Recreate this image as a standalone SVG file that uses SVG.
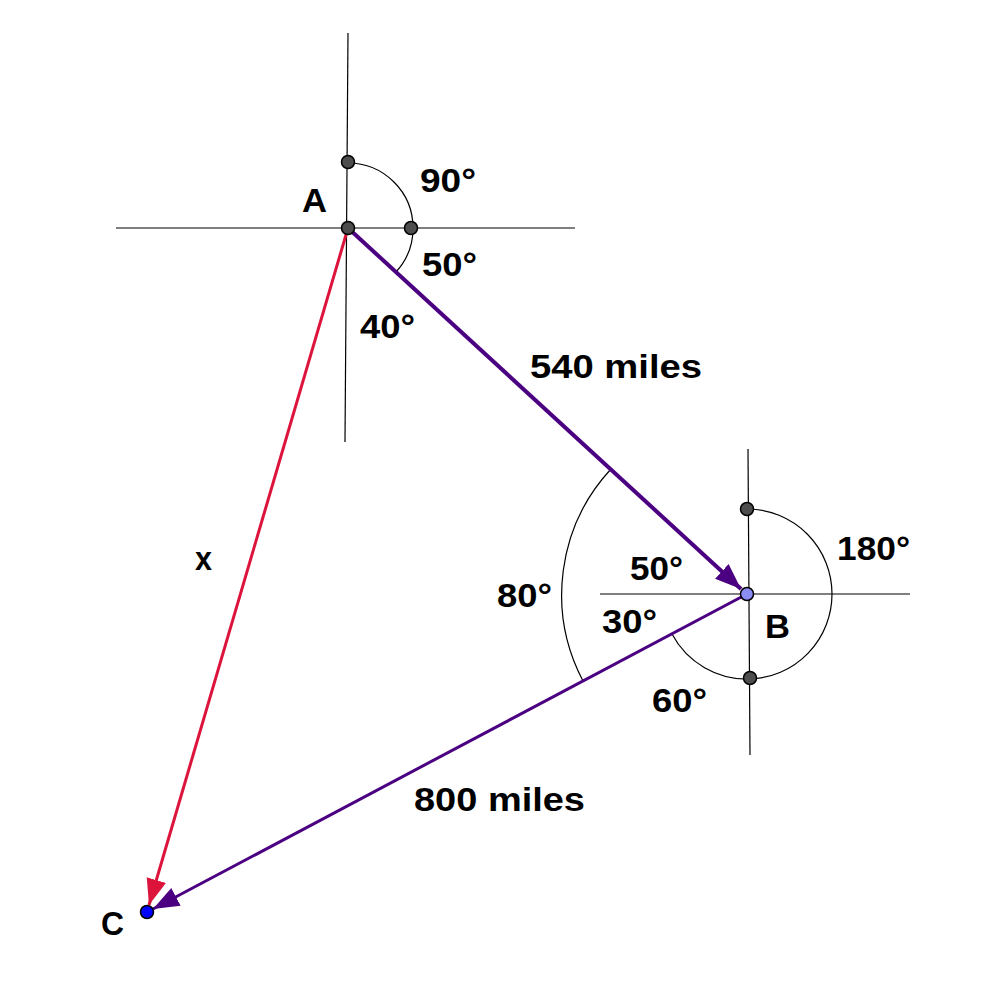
<svg xmlns="http://www.w3.org/2000/svg" width="993" height="984" viewBox="0 0 993 984">
<style>
.ax{stroke:#000;stroke-width:1.2;fill:none}
.arc{stroke:#000;stroke-width:1.2;fill:none}
.pt{fill:#4d4d4d;stroke:#000;stroke-width:1.5}
.lb{font-family:"Liberation Sans",Arial,sans-serif;font-weight:bold;font-size:33px;fill:#000}
</style>
<defs>
<marker id="hp" markerUnits="userSpaceOnUse" markerWidth="30" markerHeight="24" refX="26" refY="10" orient="auto">
<path d="M0,0 L26,10 L0,20 Z" fill="#4b0082"/>
</marker>
<marker id="hr" markerUnits="userSpaceOnUse" markerWidth="30" markerHeight="24" refX="26" refY="10" orient="auto">
<path d="M0,0 L26,10 L0,20 Z" fill="#dc143c"/>
</marker>
</defs>
<rect width="993" height="984" fill="#fff"/>
<g id="axes">
<line class="ax" x1="348" y1="33" x2="345" y2="442"/>
<line class="ax" x1="116" y1="228" x2="575" y2="228"/>
<line class="ax" x1="748" y1="449" x2="750" y2="755"/>
<line class="ax" x1="600" y1="594" x2="910" y2="594"/>
</g>
<g id="arcs">
<path class="arc" d="M348,163 A65,65 0 0 1 413,228 A65,65 0 0 1 396,272"/>
<path class="arc" d="M748,509 A85,85 0 0 1 832,594 A85,85 0 0 1 750,679 A85,85 0 0 1 672,634"/>
<path class="arc" d="M611,469 A185,185 0 0 0 583,681"/>
</g>
<g id="connectors">
<line x1="348" y1="228" x2="741" y2="589" stroke="#4b0082" stroke-width="4" marker-end="url(#hp)"/>
<line x1="747" y1="594" x2="153" y2="909" stroke="#4b0082" stroke-width="3" marker-end="url(#hp)"/>
<line x1="348" y1="228" x2="149" y2="905" stroke="#dc143c" stroke-width="3" marker-end="url(#hr)"/>
</g>
<g id="A"><circle class="pt" cx="348" cy="228" r="6.5"/><text class="lb" x="302" y="212" textLength="25" lengthAdjust="spacingAndGlyphs">A</text></g>
<g id="A-top"><circle class="pt" cx="348" cy="162" r="6.5"/></g>
<g id="A-right"><circle class="pt" cx="411" cy="228" r="6.5"/></g>
<g id="B"><circle cx="747" cy="594" r="6.5" fill="#8c8cf5" stroke="#000" stroke-width="1.5"/><text class="lb" x="765" y="638" textLength="25" lengthAdjust="spacingAndGlyphs">B</text></g>
<g id="B-top"><circle class="pt" cx="747" cy="509" r="6.5"/></g>
<g id="B-bottom"><circle class="pt" cx="750" cy="678" r="6.5"/></g>
<g id="C"><circle cx="147" cy="912" r="6.5" fill="#0000ff" stroke="#000" stroke-width="1.5"/><text class="lb" x="101" y="935" textLength="23" lengthAdjust="spacingAndGlyphs">C</text></g>
<g id="labels">
<text class="lb" x="420" y="192" textLength="56" lengthAdjust="spacingAndGlyphs">90°</text>
<text class="lb" x="422" y="276" textLength="55" lengthAdjust="spacingAndGlyphs">50°</text>
<text class="lb" x="360" y="338" textLength="55" lengthAdjust="spacingAndGlyphs">40°</text>
<text class="lb" x="530" y="378" textLength="172" lengthAdjust="spacingAndGlyphs">540 miles</text>
<text class="lb" x="195" y="570" textLength="17" lengthAdjust="spacingAndGlyphs">x</text>
<text class="lb" x="837" y="560" textLength="73" lengthAdjust="spacingAndGlyphs">180°</text>
<text class="lb" x="630" y="580" textLength="53" lengthAdjust="spacingAndGlyphs">50°</text>
<text class="lb" x="497" y="607" textLength="55" lengthAdjust="spacingAndGlyphs">80°</text>
<text class="lb" x="602" y="633" textLength="55" lengthAdjust="spacingAndGlyphs">30°</text>
<text class="lb" x="652" y="712" textLength="55" lengthAdjust="spacingAndGlyphs">60°</text>
<text class="lb" x="414" y="811" textLength="171" lengthAdjust="spacingAndGlyphs">800 miles</text>
</g>
</svg>
